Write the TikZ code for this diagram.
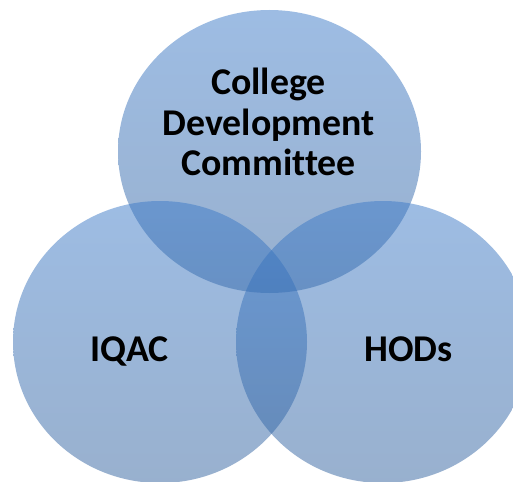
\documentclass[tikz,border=0pt]{standalone}
\usepackage{fontspec}
\setmainfont[Ligatures=NoCommon]{Carlito}
\usetikzlibrary{shapes.geometric}
\definecolor{vtop}{RGB}{60,122,200}
\definecolor{vbot}{RGB}{50,98,158}
\tikzset{
  venn/.style={ellipse, inner sep=0pt, outer sep=0pt, top color=vtop, bottom color=vbot, fill opacity=0.5, draw=none},
  lbl/.style={font=\bfseries\fontsize{37.8}{40.5}\selectfont, align=center, inner sep=0pt, text=black}
}
\begin{document}
\begin{tikzpicture}[x=1pt,y=1pt]
\useasboundingbox (0,0) rectangle (513,-481);
\node[venn, minimum width=303pt, minimum height=283pt] (cdc) at (269.5,-151.5) {};
\node[venn, minimum width=294pt, minimum height=282pt] (iqac) at (160,-342) {};
\node[venn, minimum width=294pt, minimum height=282pt] (hods) at (383,-342) {};
\node[lbl] (tcdc) at (268.5,-122) {College\\Development\\Committee};
\node[lbl, anchor=base] (tiqac) at (129.5,-361) {IQAC};
\node[lbl, anchor=base] (thods) at (408.5,-361) {HODs};
\end{tikzpicture}
\end{document}
